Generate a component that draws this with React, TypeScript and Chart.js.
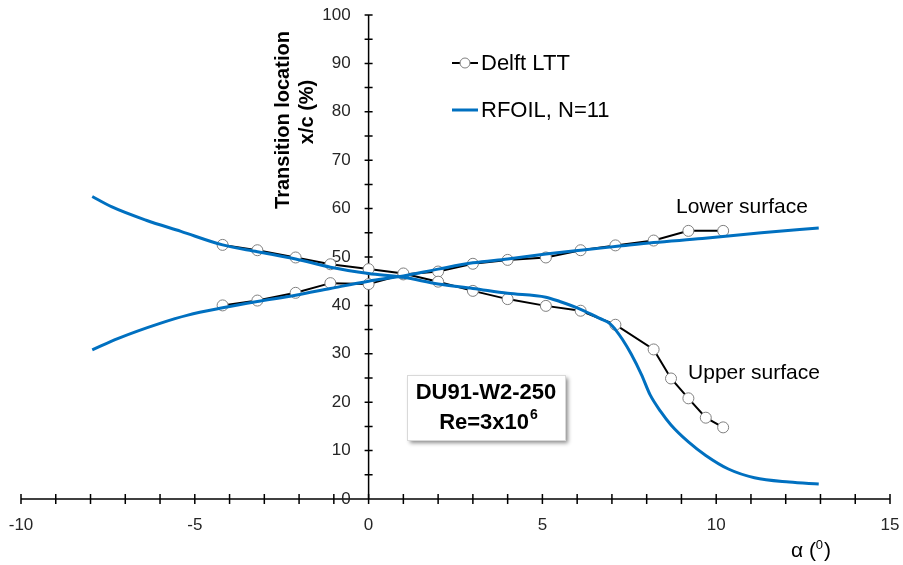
import React, { useEffect, useRef } from "react";
import { Chart, registerables } from "chart.js";

Chart.register(...registerables);

// ---- Data ----
const delftLowerAlpha = [-4.2, -3.2, -2.1, -1.1, 0, 1, 2, 3, 4, 5.1, 6.1, 7.1, 8.2, 9.2, 10.2];
const delftLower = [40.0, 41.0, 42.6, 44.6, 44.4, 46.4, 47.0, 48.6, 49.4, 49.9, 51.4, 52.4, 53.4, 55.4, 55.4];

const delftUpperAlpha = [-4.2, -3.2, -2.1, -1.1, 0, 1, 2, 3, 4, 5.1, 6.1, 7.1, 8.2, 8.7, 9.2, 9.7, 10.2];
const delftUpper = [52.5, 51.4, 49.9, 48.5, 47.5, 46.6, 44.9, 43.0, 41.3, 39.9, 38.9, 36.0, 30.9, 24.9, 20.8, 16.8, 14.8];

const rfoilUpperAlpha = [-7.95, -7.4, -6.4, -5.4, -4.2, -3.2, -2.1, -1.1, 0, 1, 2, 3, 4, 5.1, 5.5, 6.1, 6.65, 6.95, 7.1, 7.3, 7.55, 7.85, 8.1, 8.4, 8.7, 9.2, 9.7, 10.35, 11.1, 12.1, 12.95];
const rfoilUpper = [62.5, 60.4, 57.6, 55.3, 52.5, 51.1, 49.6, 47.9, 46.6, 45.8, 44.4, 43.5, 42.5, 41.7, 40.8, 39.2, 37.3, 36.2, 35.0, 33.0, 30.0, 25.7, 21.5, 18.1, 15.3, 11.8, 9.0, 6.2, 4.4, 3.5, 3.1];

const rfoilLowerAlpha = [-7.95, -7.2, -6.0, -5.2, -4.2, -3.2, -2.1, -1.1, 0, 1, 2, 3, 4, 5.1, 6.1, 7.15, 8.2, 9.6, 11.3, 12.95];
const rfoilLower = [30.8, 33.2, 36.3, 38.0, 39.5, 40.8, 42.1, 43.5, 45.0, 46.1, 47.5, 48.8, 49.6, 50.6, 51.4, 52.2, 53.0, 53.8, 55.0, 56.0];

const xTickLabels = [-10, -5, 0, 5, 10, 15];
const yTickLabels = [0, 10, 20, 30, 40, 50, 60, 70, 80, 90, 100];
const xMinorStep = 1;
const yMinorStep = 5;
const X_MIN = -10;
const X_MAX = 15;
const Y_MIN = 0;
const Y_MAX = 100;

const seriesNames = ["Delft LTT", "RFOIL, N=11"];
const surfaceLabels = ["Lower surface", "Upper surface"];
const boxLines = ["DU91-W2-250", "Re=3x10", "6"];
const yTitleLines = ["Transition location", "x/c (%)"];

const FONT = '"Liberation Sans", Arial, sans-serif';
const BLUE = "#0070C0";

const pairs = (xs: number[], ys: number[]) => xs.map((x, i) => ({ x, y: ys[i] }));

export default function App() {
  const ref = useRef<HTMLCanvasElement>(null);

  useEffect(() => {
    if (!ref.current) return;

    const decorPlugin = {
      id: "decor",
      beforeDatasetsDraw(chart: any) {
        const { ctx, scales } = chart;
        const xs = scales.x;
        const ys = scales.y;
        const x0 = xs.getPixelForValue(0);
        const y0 = ys.getPixelForValue(0);
        ctx.save();
        ctx.strokeStyle = "#000";
        ctx.lineWidth = 1.5;
        // x axis
        ctx.beginPath();
        ctx.moveTo(xs.getPixelForValue(X_MIN), y0);
        ctx.lineTo(xs.getPixelForValue(X_MAX), y0);
        ctx.stroke();
        ctx.beginPath();
        for (let v = X_MIN; v <= X_MAX; v += xMinorStep) {
          const px = xs.getPixelForValue(v);
          ctx.moveTo(px, y0 - 5);
          ctx.lineTo(px, y0 + 5);
        }
        ctx.stroke();
        // y axis
        ctx.beginPath();
        ctx.moveTo(x0, ys.getPixelForValue(Y_MIN));
        ctx.lineTo(x0, ys.getPixelForValue(Y_MAX));
        ctx.stroke();
        ctx.beginPath();
        for (let v = Y_MIN + yMinorStep; v <= Y_MAX; v += yMinorStep) {
          const py = ys.getPixelForValue(v);
          ctx.moveTo(x0 - 4, py);
          ctx.lineTo(x0 + 4, py);
        }
        ctx.stroke();

        // tick labels
        ctx.fillStyle = "#262626";
        ctx.font = `17px ${FONT}`;
        ctx.textAlign = "center";
        ctx.textBaseline = "middle";
        xTickLabels.forEach((v) => {
          ctx.fillText(String(v), xs.getPixelForValue(v), y0 + 26);
        });
        ctx.textAlign = "right";
        yTickLabels.forEach((v) => {
          ctx.fillText(String(v), x0 - 18, ys.getPixelForValue(v));
        });
        ctx.restore();
      },
      afterDatasetsDraw(chart: any) {
        const { ctx } = chart;
        ctx.save();
        ctx.fillStyle = "#000";
        ctx.textBaseline = "middle";

        // Legend
        ctx.strokeStyle = "#000";
        ctx.lineWidth = 2;
        ctx.beginPath();
        ctx.moveTo(452, 63);
        ctx.lineTo(478, 63);
        ctx.stroke();
        ctx.beginPath();
        ctx.arc(465, 63, 5, 0, Math.PI * 2);
        ctx.fillStyle = "#fff";
        ctx.fill();
        ctx.strokeStyle = "#7f7f7f";
        ctx.lineWidth = 1;
        ctx.stroke();
        ctx.strokeStyle = BLUE;
        ctx.lineWidth = 3;
        ctx.beginPath();
        ctx.moveTo(452, 110);
        ctx.lineTo(478, 110);
        ctx.stroke();
        ctx.fillStyle = "#000";
        ctx.font = `22px ${FONT}`;
        ctx.textAlign = "left";
        ctx.fillText(seriesNames[0], 481, 64);
        ctx.fillText(seriesNames[1], 481, 111);

        // Surface labels
        ctx.font = `21px ${FONT}`;
        ctx.textAlign = "center";
        ctx.fillText(surfaceLabels[0], 742, 207);
        ctx.fillText(surfaceLabels[1], 754, 373);

        // Box with shadow
        ctx.save();
        ctx.shadowColor = "rgba(0,0,0,0.45)";
        ctx.shadowBlur = 4;
        ctx.shadowOffsetX = 3;
        ctx.shadowOffsetY = 3;
        ctx.fillStyle = "#fff";
        ctx.fillRect(407, 375, 158, 65);
        ctx.restore();
        ctx.strokeStyle = "#d9d9d9";
        ctx.lineWidth = 1;
        ctx.strokeRect(407.5, 375.5, 158, 65);
        ctx.fillStyle = "#000";
        ctx.font = `bold 22px ${FONT}`;
        ctx.textAlign = "center";
        ctx.fillText(boxLines[0], 486, 393);
        // Re=3x10^6
        const w1 = ctx.measureText(boxLines[1]).width;
        ctx.font = `bold 14px ${FONT}`;
        const w2 = ctx.measureText(boxLines[2]).width;
        const start = 488 - (w1 + w2) / 2;
        ctx.textAlign = "left";
        ctx.font = `bold 22px ${FONT}`;
        ctx.fillText(boxLines[1], start, 423);
        ctx.font = `bold 14px ${FONT}`;
        ctx.fillText(boxLines[2], start + w1 + 1, 415);

        // Y title (rotated)
        ctx.font = `bold 20px ${FONT}`;
        ctx.textAlign = "center";
        ctx.save();
        ctx.translate(283, 120);
        ctx.rotate(-Math.PI / 2);
        ctx.fillText(yTitleLines[0], 0, 0);
        ctx.restore();
        ctx.save();
        ctx.translate(307, 112);
        ctx.rotate(-Math.PI / 2);
        ctx.fillText(yTitleLines[1], 0, 0);
        ctx.restore();

        // X title: α (⁰)
        ctx.font = `21px ${FONT}`;
        ctx.textAlign = "left";
        const a1 = "\u03b1 (";
        const aw = ctx.measureText(a1).width;
        ctx.font = `13px ${FONT}`;
        const sw = ctx.measureText("0").width;
        ctx.font = `21px ${FONT}`;
        const cw = ctx.measureText(")").width;
        const ax = 811 - (aw + sw + cw + 1) / 2;
        ctx.fillText(a1, ax, 551);
        ctx.font = `13px ${FONT}`;
        ctx.fillText("0", ax + aw, 545);
        ctx.font = `21px ${FONT}`;
        ctx.fillText(")", ax + aw + sw + 1, 551);

        ctx.restore();
      },
    };

    const chart = new Chart(ref.current, {
      type: "scatter",
      data: {
        datasets: [
          {
            label: "RFOIL upper",
            data: pairs(rfoilUpperAlpha, rfoilUpper),
            showLine: true,
            borderColor: BLUE,
            borderWidth: 3,
            pointRadius: 0,
            cubicInterpolationMode: "monotone",
            order: 0,
          },
          {
            label: "RFOIL lower",
            data: pairs(rfoilLowerAlpha, rfoilLower),
            showLine: true,
            borderColor: BLUE,
            borderWidth: 3,
            pointRadius: 0,
            cubicInterpolationMode: "monotone",
            order: 0,
          },
          {
            label: "Delft upper",
            data: pairs(delftUpperAlpha, delftUpper),
            showLine: true,
            borderColor: "#000",
            borderWidth: 2,
            pointRadius: 5.5,
            pointBackgroundColor: "#fff",
            pointBorderColor: "#7f7f7f",
            pointBorderWidth: 1,
            order: 1,
          },
          {
            label: "Delft lower",
            data: pairs(delftLowerAlpha, delftLower),
            showLine: true,
            borderColor: "#000",
            borderWidth: 2,
            pointRadius: 5.5,
            pointBackgroundColor: "#fff",
            pointBorderColor: "#7f7f7f",
            pointBorderWidth: 1,
            order: 1,
          },
        ],
      },
      options: {
        responsive: false,
        animation: false,
        layout: { padding: { left: 21, right: 13, top: 15, bottom: 66 } },
        plugins: { legend: { display: false }, tooltip: { enabled: false } },
        scales: {
          x: { type: "linear", min: X_MIN, max: X_MAX, display: false },
          y: { type: "linear", min: Y_MIN, max: Y_MAX, display: false },
        },
      },
      plugins: [decorPlugin],
    });

    return () => chart.destroy();
  }, []);

  return (
    <div style={{ position: "fixed", left: 0, top: 0, width: 903, height: 565, background: "#fff" }}>
      <canvas ref={ref} width={903} height={565} style={{ display: "block" }} />
    </div>
  );
}
